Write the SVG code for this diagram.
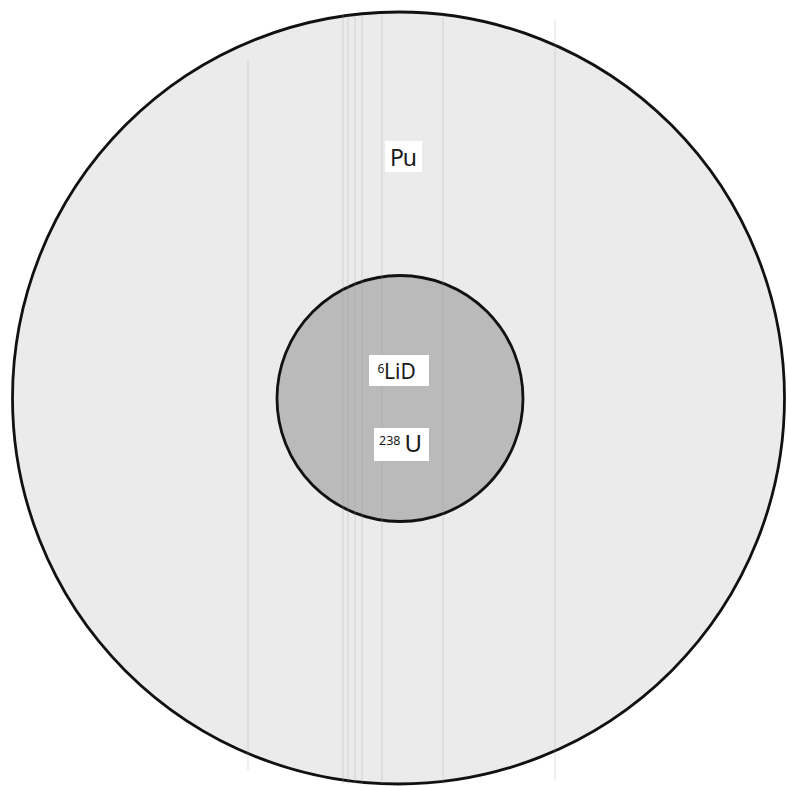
<svg xmlns="http://www.w3.org/2000/svg" width="787" height="786" viewBox="0 0 787 786">
<style>
.lbl{font-family:"Noto Sans","Open Sans","DejaVu Sans",sans-serif;fill:#1a1a1a}
.box{fill:#ffffff}
.scan{stroke:#9a9a9a;stroke-width:0.6;opacity:0.5}
</style>
<rect width="787" height="786" fill="#ffffff"/>
<g id="outer">
<circle cx="398.5" cy="398" r="386" fill="#ebebeb" stroke="#111" stroke-width="2.8"/>
</g>
<g id="inner">
<circle cx="400" cy="398.5" r="123" fill="#bababa" stroke="#111" stroke-width="2.8"/>
</g>
<g id="scanlines">
<line class="scan" x1="248" y1="60" x2="248" y2="770"/>
<line class="scan" x1="343" y1="15" x2="343" y2="784"/>
<line class="scan" x1="348" y1="15" x2="348" y2="784"/>
<line class="scan" x1="355" y1="15" x2="355" y2="784"/>
<line class="scan" x1="362" y1="15" x2="362" y2="784"/>
<line class="scan" x1="382" y1="15" x2="382" y2="784"/>
<line class="scan" x1="443" y1="15" x2="443" y2="784"/>
<line class="scan" x1="555" y1="20" x2="555" y2="780"/>
</g>
<g id="label-pu">
<rect class="box" x="385" y="141" width="37" height="31"/>
<text class="lbl" x="403" y="166" font-size="23" text-anchor="middle" letter-spacing="-1">Pu</text>
</g>
<g id="label-lid">
<rect class="box" x="369" y="355" width="60" height="31"/>
<text class="lbl" x="377.5" y="373" font-size="12">6</text>
<text class="lbl" x="384" y="379" font-size="21">LiD</text>
</g>
<g id="label-u">
<rect class="box" x="374" y="428" width="55" height="33"/>
<text class="lbl" x="379" y="445" font-size="12.5">238</text>
<text class="lbl" x="404.5" y="452" font-size="24">U</text>
</g>
</svg>
